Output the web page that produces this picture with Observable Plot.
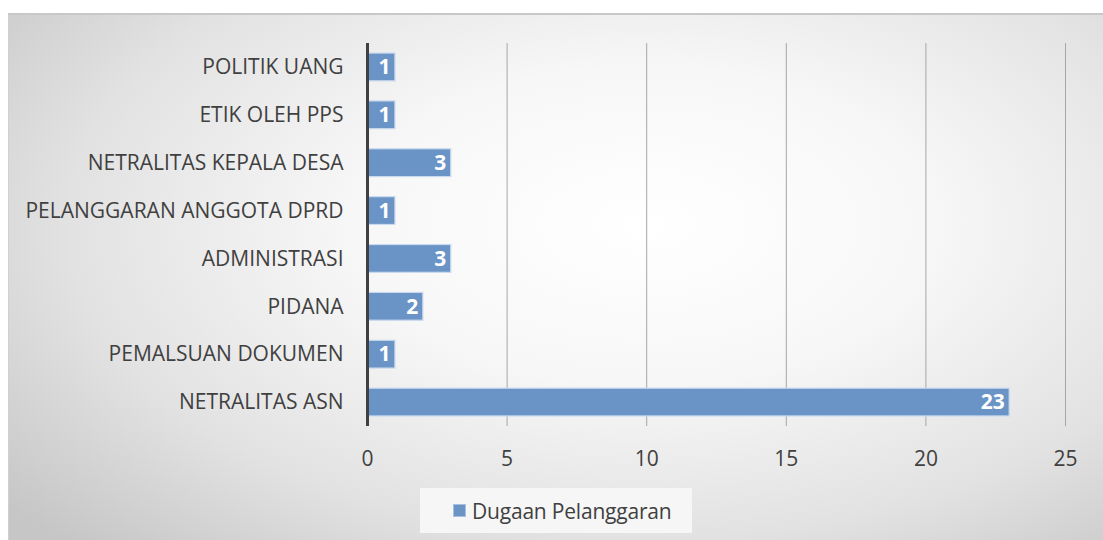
<!DOCTYPE html>
<html><head><meta charset="utf-8">
<script src="https://cdn.jsdelivr.net/npm/d3@7"></script>
<script src="https://cdn.jsdelivr.net/npm/@observablehq/plot@0.6"></script>
<style>
html,body{margin:0;padding:0;background:#fff;}
#wrap{position:relative;width:1103px;height:540px;overflow:hidden;}
#frame{position:absolute;left:8px;top:13px;width:1095px;height:527px;border-top:2px solid #c8c8c8;border-left:1px solid #d0d0d0;box-sizing:border-box;
background:radial-gradient(ellipse 75% 85% at 58% 40%, #ffffff 0%, #f7f7f7 35%, #e2e2e2 70%, #c6c6c6 100%);}
#chart{position:absolute;left:0;top:0;}
#legend{position:absolute;left:420px;top:488px;width:272px;height:45px;box-sizing:border-box;padding-left:33px;background:#f6f6f6;display:flex;align-items:center;justify-content:flex-start;font-family:"Open Sans",sans-serif;font-size:21px;color:#404040;letter-spacing:-0.2px;}
#legend .sw{width:13px;height:13px;background:#6a93c6;border:1px solid #a8c0e0;box-sizing:border-box;margin-right:6px;}
</style></head>
<body>
<div id="wrap"><div id="frame"></div><div id="chart"></div><div id="legend"><span class="sw"></span>Dugaan Pelanggaran</div></div>
<script>
const categories = ["POLITIK UANG","ETIK OLEH PPS","NETRALITAS KEPALA DESA","PELANGGARAN ANGGOTA DPRD","ADMINISTRASI","PIDANA","PEMALSUAN DOKUMEN","NETRALITAS ASN"];
const values = [1,1,3,1,3,2,1,23];
const xTicks = [0,5,10,15,20,25];
const seriesName = "Dugaan Pelanggaran";
const data = categories.map((c,i)=>({category:c, value:values[i]}));

const chart = Plot.plot({
  width:1103, height:540,
  marginLeft:367, marginRight:38, marginTop:43, marginBottom:114,
  style:{background:"transparent", fontFamily:"'Open Sans',sans-serif"},
  x:{domain:[0,25], ticks:xTicks},
  y:{domain:categories, paddingInner:0.42, paddingOuter:0.21, round:false},
  marks:[
    Plot.gridX(xTicks.filter(d=>d>0), {stroke:"#a6a6a6", strokeOpacity:1, strokeWidth:1}),
    Plot.barX(data, {y:"category", x:"value", fill:"#6a93c6", stroke:"#c9d9ee", strokeWidth:1.2}),
    Plot.ruleX([0], {stroke:"#404040", strokeWidth:3}),
    Plot.text(data, {y:"category", x:"value", text:d=>String(d.value), textAnchor:"end", dx:-5, fill:"#ffffff", fontWeight:"bold", fontSize:21}),
    Plot.axisX(xTicks, {tickSize:0, tickPadding:25, fontSize:21, fill:"#404040", label:null}),
    Plot.axisY({tickSize:0, tickPadding:24, fontSize:21, fill:"#404040", label:null})
  ]
});
document.getElementById("chart").appendChild(chart);
</script>
</body></html>
